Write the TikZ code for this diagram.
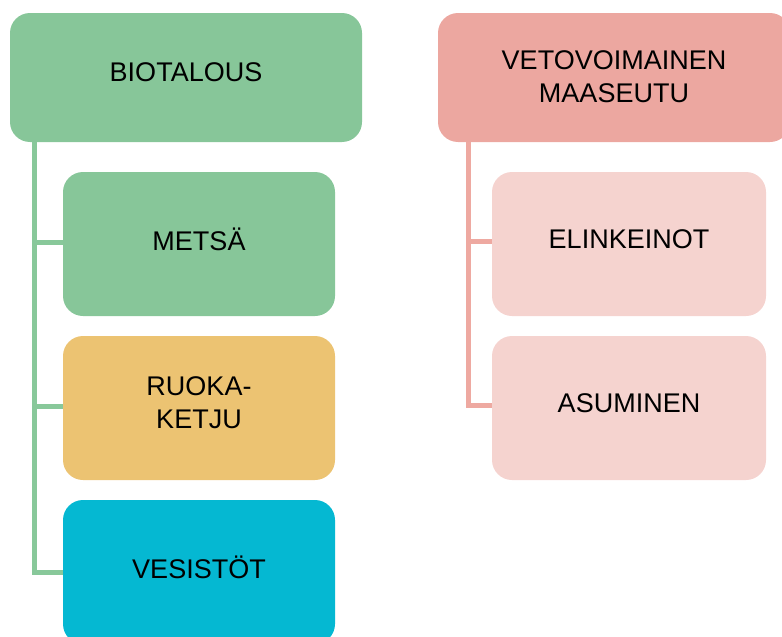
\documentclass[tikz,border=0pt]{standalone}
\usepackage{fontspec}
\setmainfont{Liberation Sans}

\definecolor{biogreen}{HTML}{87C699}
\definecolor{foodyellow}{HTML}{ECC372}
\definecolor{watercyan}{HTML}{05B8D2}
\definecolor{vetosalmon}{HTML}{ECA7A0}
\definecolor{vetopink}{HTML}{F5D3CF}
\definecolor{biolinecol}{HTML}{88C89A}
\definecolor{vetolinecol}{HTML}{EEA9A1}

\tikzset{
    topicbox/.style={rounded corners=20pt, minimum width=272pt, minimum height=144pt,
        align=center, text depth=10pt, text=black,
        font=\fontsize{27}{33}\selectfont},
    headbox/.style={topicbox, minimum width=352pt, minimum height=129pt},
    branch/.style={line width=5pt}
}

\begin{document}
\begin{tikzpicture}[x=1pt, y=-1pt]
    \useasboundingbox (0,0) rectangle (782,637);

    % left column
    \node[headbox, fill=biogreen] (bio) at (186,77.5) {BIOTALOUS};
    \foreach \y/\name/\col/\txt in {244/metsa/biogreen/{METSÄ}, 408/ruoka/foodyellow/{RUOKA-\\KETJU}, 572/vesisto/watercyan/{VESISTÖT}} {
            \node[topicbox, fill=\col] (\name) at (199,\y) {\txt};
        }

    % right column
    \node[headbox, fill=vetosalmon, text depth=2pt] (veto) at (614,77.5) {VETOVOIMAINEN\\MAASEUTU};
    \foreach \y/\name/\txt in {244/elinkeinot/ELINKEINOT, 408/asuminen/ASUMINEN} {
            \node[topicbox, minimum width=274pt, fill=vetopink] (\name) at (629,\y) {\txt};
        }

    % connectors
    \coordinate (biotrunk) at ([xshift=24.5pt]bio.south west);
    \draw[branch, biolinecol] (biotrunk) |- (vesisto.west);
    \foreach \name in {metsa,ruoka} {
            \draw[branch, biolinecol] ([yshift=2pt]biotrunk |- \name.west) -- ([yshift=2pt]\name.west);
        }

    \coordinate (vetotrunk) at ([xshift=30.5pt]veto.south west);
    \draw[branch, vetolinecol] (vetotrunk) |- ([yshift=3pt]asuminen.west);
    \draw[branch, vetolinecol] ([yshift=3pt]vetotrunk |- elinkeinot.west) -- ([yshift=3pt]elinkeinot.west);
\end{tikzpicture}
\end{document}
